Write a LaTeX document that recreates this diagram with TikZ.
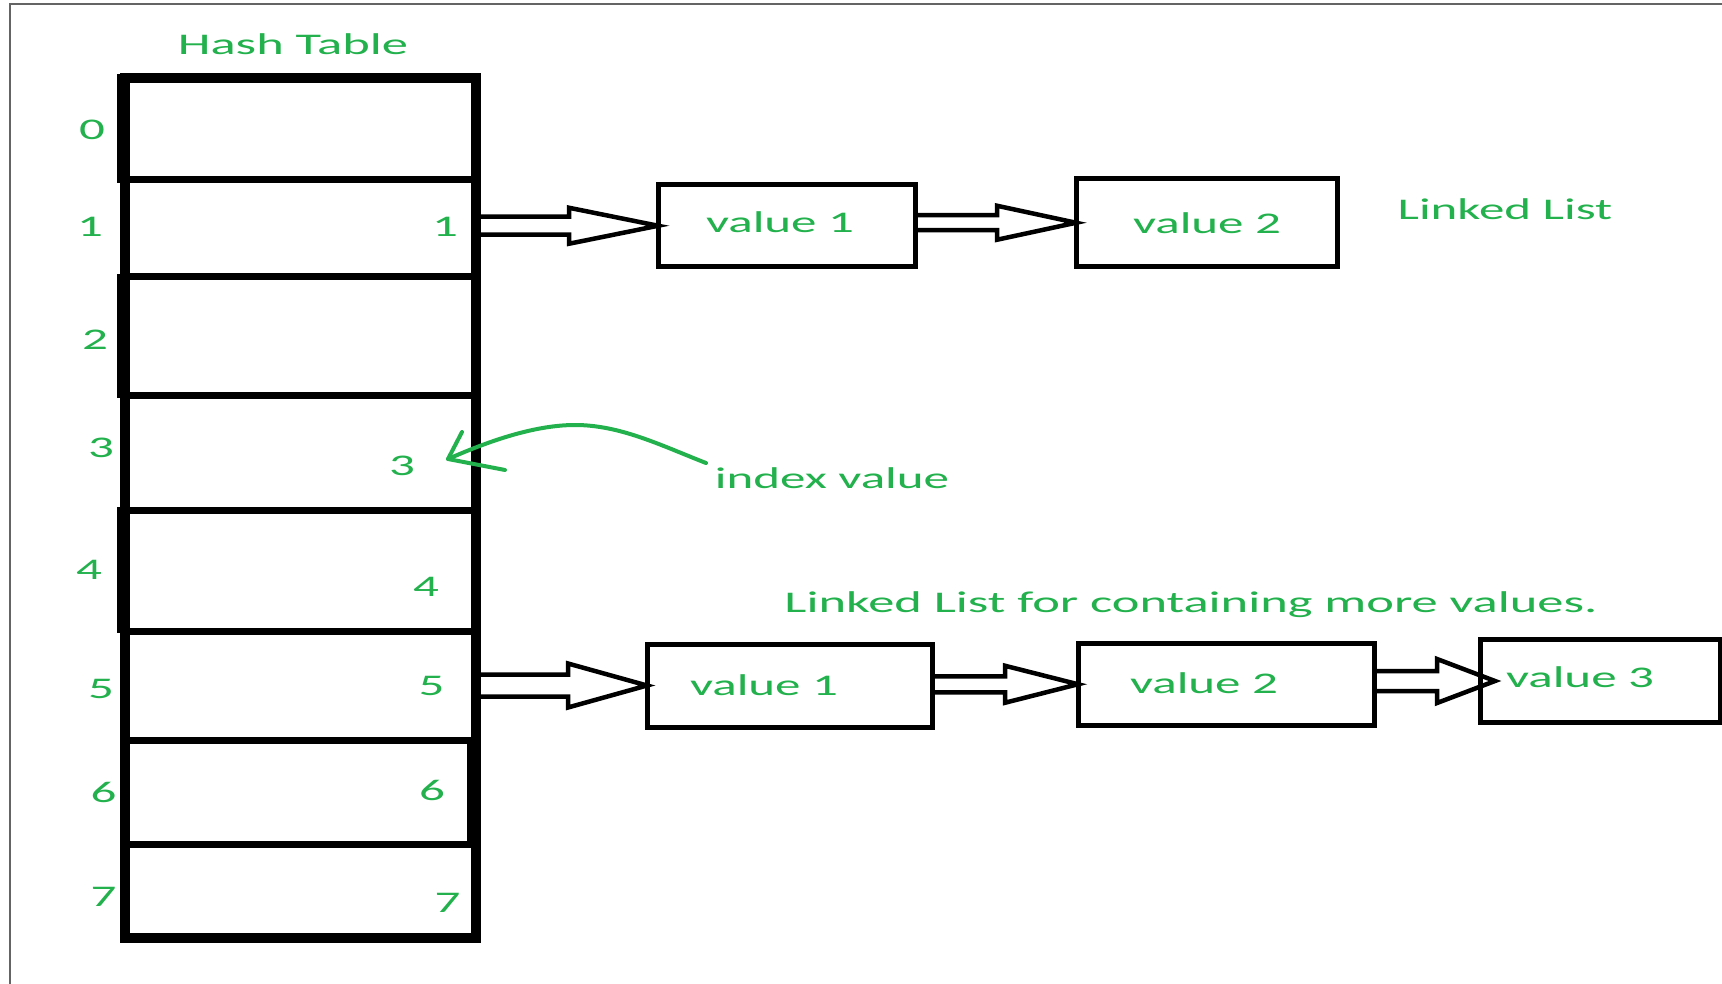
\documentclass[tikz,border=0pt]{standalone}
\usepackage{fontspec}
\newfontfamily\lblfont{Carlito}[FakeStretch=1.7]
\newfontfamily\lblwidefont{Carlito}[FakeStretch=1.75]
\usetikzlibrary{calc}
\definecolor{pgreen}{RGB}{34,177,76}
\definecolor{bordergray}{RGB}{100,100,100}
\newcommand\hollowarrow[6]{%
  \draw[blockarrow] let \p1=(#1.east), \p2=(#2.west) in
    (\x1,\y2+#3pt) -- (\x2+#6pt-#5pt,\y2+#3pt) -- (\x2+#6pt-#5pt,\y2+#4pt)
    -- (\x2+#6pt,\y2) -- (\x2+#6pt-#5pt,\y2-#4pt) -- (\x2+#6pt-#5pt,\y2-#3pt) -- (\x1,\y2-#3pt);}
\tikzset{
 cell/.style={draw, line width=7, inner sep=0, outer sep=0, minimum width=351, anchor=north west},
 vbox/.style={draw, line width=5, inner sep=0, outer sep=0, anchor=north west},
 lbl/.style={text=pgreen, font=\lblfont\fontsize{30}{36}\selectfont, inner sep=0, anchor=base},
 widelbl/.style={lbl, font=\lblwidefont\fontsize{30}{36}\selectfont},
 blockarrow/.style={draw, line width=4.5, line join=miter},
 border/.style={draw=bordergray, line width=2},
 pointer/.style={draw=pgreen, line width=4, line cap=round, line join=round},
 thickedge/.style={line width=12},
}
\begin{document}
\begin{tikzpicture}[x=1pt,y=-1pt]
\useasboundingbox (0,0) rectangle (1722,984);
\fill[white] (0,0) rectangle (1722,984);
\draw[border] (10,984) -- (10,4.5) -- (1722,4.5);

% hash table cells
\node[cell, minimum height=102] (r0) at (124.5,78) {};
\node[cell, minimum height=97]  (r1) at (124.5,180) {};
\node[cell, minimum height=118] (r2) at (124.5,277) {};
\node[cell, minimum height=115] (r3) at (124.5,395) {};
\node[cell, minimum height=121] (r4) at (124.5,510) {};
\node[cell, minimum height=109] (r5) at (124.5,631) {};
\node[cell, minimum height=104] (r6) at (124.5,740) {};
\node[cell, minimum height=94]  (r7) at (124.5,844) {};
\draw[line width=10] (r0.north west) rectangle (r7.south east);
% heavier hand-drawn edges
\draw[thickedge] ($(r0.north west)+(-1.5,-4)$) -- ($(r0.south west)+(-1.5,3)$);
\draw[thickedge] ($(r2.north west)+(-1.5,-3)$) -- ($(r2.south west)+(-1.5,3)$);
\draw[thickedge] ($(r4.north west)+(-1.5,-3)$) -- ($(r4.south west)+(-1.5,2)$);
\draw[thickedge] ($(r6.north east)+(-3,0)$) -- ($(r6.south east)+(-3,0)$);

% value boxes
\node[vbox, minimum width=257, minimum height=82.5] (tv1) at (658,184.5) {};
\node[vbox, minimum width=261, minimum height=88.5] (tv2) at (1076,178.5) {};
\node[vbox, minimum width=285, minimum height=83] (bv1) at (647,644) {};
\node[vbox, minimum width=296, minimum height=81.5] (bv2) at (1078,643.5) {};
\node[vbox, minimum width=240, minimum height=83] (bv3) at (1480,639.5) {};

% block arrows
\hollowarrow{r1}{tv1}{9}{18}{89}{0}
\hollowarrow{tv1}{tv2}{7.5}{17}{79}{0}
\hollowarrow{r5}{bv1}{11}{22}{79}{0}
\hollowarrow{bv1}{bv2}{8}{18.5}{73}{0}
\hollowarrow{bv2}{bv3}{10}{22}{58}{15}

% labels
\node[widelbl] (ht) at (293,55) {Hash Table};
\node[lbl] (l0) at (92,140) {0};
\node[lbl] (l1) at (90,237) {1};
\node[lbl] (l2) at (95,350) {2};
\node[lbl] (l3) at (101,457) {3};
\node[lbl] (l4) at (89,579) {4};
\node[lbl] (l5) at (101,698) {5};
\node[lbl] (l6) at (103.5,802) {6};
\node[lbl] (l7) at (103.5,906) {7};
\node[lbl] (i1) at (445,237) {1};
\node[lbl] (i3) at (402,475) {3};
\node[lbl] (i4) at (426,596) {4};
\node[lbl] (i5) at (431.5,695) {5};
\node[lbl] (i6) at (432,800) {6};
\node[lbl] (i7) at (447.5,912) {7};
\node[lbl] (t1) at (780,233) {value 1};
\node[lbl] (t2) at (1207,234) {value 2};
\node[lbl] (ll) at (1505,220) {Linked List};
\node[lbl] (iv) at (832,488) {index value};
\node[widelbl] (llm) at (1191,612) {Linked List for containing more values.};
\node[lbl] (b1) at (764,695) {value 1};
\node[lbl] (b2) at (1204,693) {value 2};
\node[lbl] (b3) at (1580,687) {value 3};

% index pointer
\coordinate (pstart) at (706,463);
\coordinate (ptip) at (448,459);
\draw[pointer] (pstart) .. controls (660,445) and (620,425) .. (575,425)
  .. controls (530,425) and (480,445) .. (ptip);
\draw[pointer] (462,432) -- (ptip) -- (505,470);
\end{tikzpicture}
\end{document}
